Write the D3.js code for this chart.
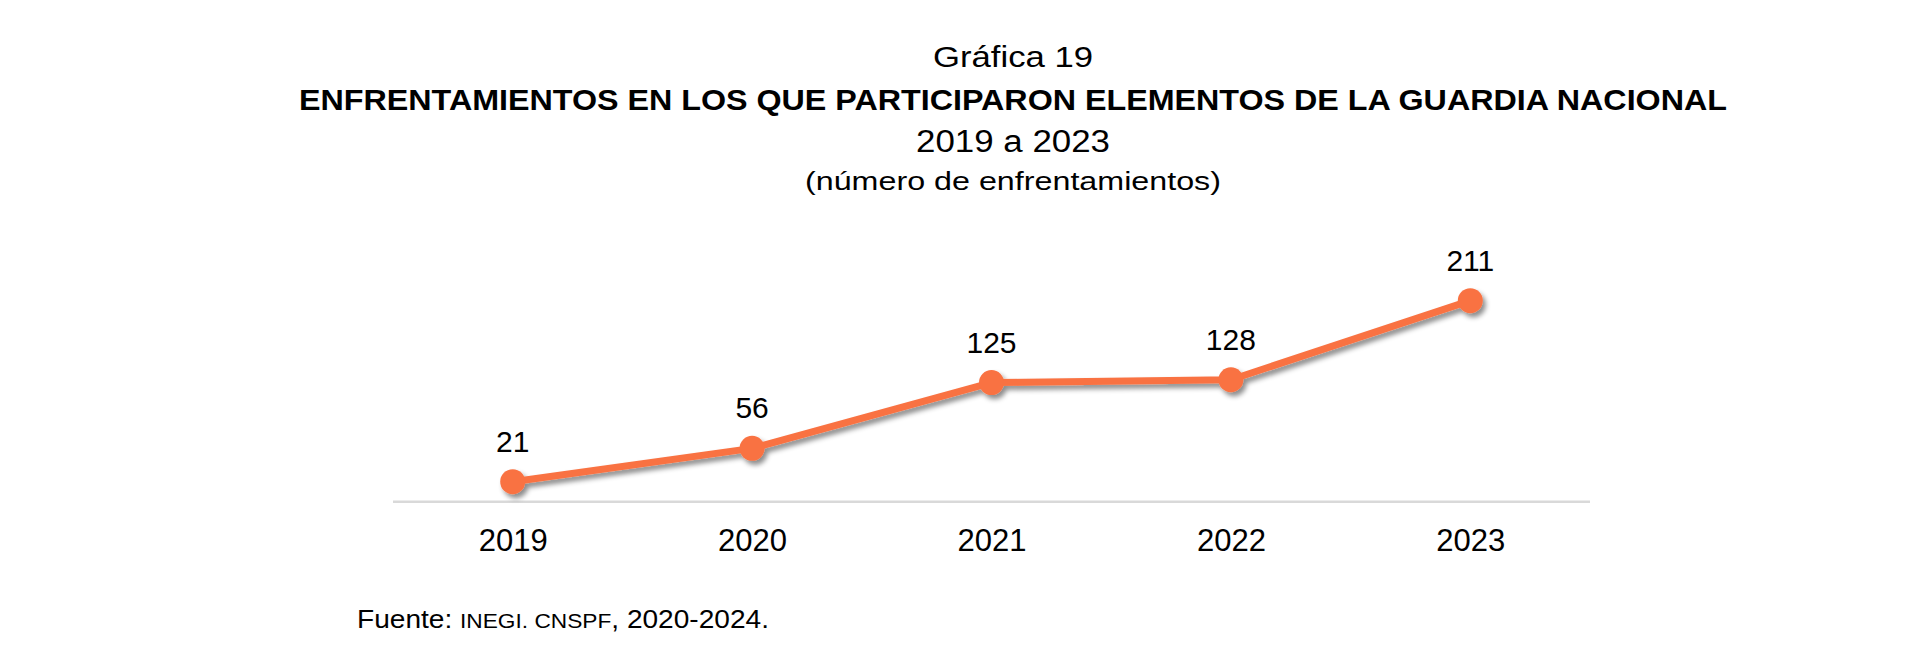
<!DOCTYPE html>
<html>
<head>
<meta charset="utf-8">
<script src="https://cdn.jsdelivr.net/npm/d3@7"></script>
<style>
  html, body { margin: 0; padding: 0; background: #ffffff; }
  svg { display: block; font-family: "Liberation Sans", Arial, sans-serif; }
</style>
</head>
<body>
<svg id="chart" width="1920" height="663"></svg>
<script>
const years = ["2019", "2020", "2021", "2022", "2023"];
const values = [21, 56, 125, 128, 211];
const valueLabels = ["21", "56", "125", "128", "211"];
const titleLines = ["Gráfica 19", "ENFRENTAMIENTOS EN LOS QUE PARTICIPARON ELEMENTOS DE LA GUARDIA NACIONAL", "2019 a 2023", "(número de enfrentamientos)"];

const svg = d3.select("#chart");
const lineColor = "#F97242";

// drop shadow filter
const defs = svg.append("defs");
const f = defs.append("filter").attr("id", "shadow")
  .attr("x", "-20%").attr("y", "-50%").attr("width", "140%").attr("height", "200%");
f.append("feDropShadow").attr("dx", 3).attr("dy", 4).attr("stdDeviation", 2.5)
  .attr("flood-color", "#000").attr("flood-opacity", 0.45);

// Titles
const cx = 1013;
const titleSpecs = [
  { y: 67, size: 30, weight: "normal", len: 160 },
  { y: 110, size: 30, weight: "bold", len: 1428 },
  { y: 152, size: 31, weight: "normal", len: 194 },
  { y: 190, size: 26, weight: "normal", len: 416 }
];
titleLines.forEach((t, i) => {
  const s = titleSpecs[i];
  svg.append("text")
    .attr("x", cx).attr("y", s.y)
    .attr("text-anchor", "middle")
    .attr("font-size", s.size)
    .attr("font-weight", s.weight)
    .attr("fill", "#000")
    .attr("textLength", s.len)
    .attr("lengthAdjust", "spacingAndGlyphs")
    .text(t);
});

// Scales
const x = d3.scalePoint().domain(years).range([393, 1590]).padding(0.5);
const y = d3.scaleLinear().domain([0, 250]).range([501.7, 263.5]);

// Baseline axis
const xAxis = d3.axisBottom(x).tickSize(0).tickPadding(0);
const gx = svg.append("g").attr("transform", `translate(0,${y(0)})`).call(xAxis);
gx.select(".domain").attr("stroke", "#d9d9d9").attr("stroke-width", 2.5)
  .attr("d", `M${x.range()[0]},0H${x.range()[1]}`);
gx.selectAll(".tick text")
  .attr("dy", null)
  .attr("y", 49)
  .attr("font-size", 31)
  .attr("font-family", "'Liberation Sans', Arial, sans-serif")
  .attr("fill", "#000");

// Line + markers
const data = years.map((yr, i) => ({ yr, v: values[i], label: valueLabels[i] }));
const g = svg.append("g").attr("filter", "url(#shadow)");
g.append("path")
  .datum(data)
  .attr("fill", "none")
  .attr("stroke", lineColor)
  .attr("stroke-width", 7)
  .attr("stroke-linejoin", "round")
  .attr("d", d3.line().x(d => x(d.yr)).y(d => y(d.v)));
g.selectAll("circle").data(data).join("circle")
  .attr("cx", d => x(d.yr)).attr("cy", d => y(d.v)).attr("r", 12.5)
  .attr("fill", lineColor);

// Value labels
svg.selectAll("text.val").data(data).join("text")
  .attr("class", "val")
  .attr("x", d => x(d.yr))
  .attr("y", d => y(d.v) - 30)
  .attr("text-anchor", "middle")
  .attr("font-size", 30)
  .attr("fill", "#000")
  .text(d => d.label);

// Source
const src = svg.append("text").attr("x", 357).attr("y", 628).attr("fill", "#000").attr("font-size", 26)
  .attr("textLength", 412).attr("lengthAdjust", "spacingAndGlyphs");
src.append("tspan").text("Fuente: ");
src.append("tspan").attr("font-size", 21).text("INEGI. CNSPF");
src.append("tspan").text(", 2020-2024.");
</script>
</body>
</html>
